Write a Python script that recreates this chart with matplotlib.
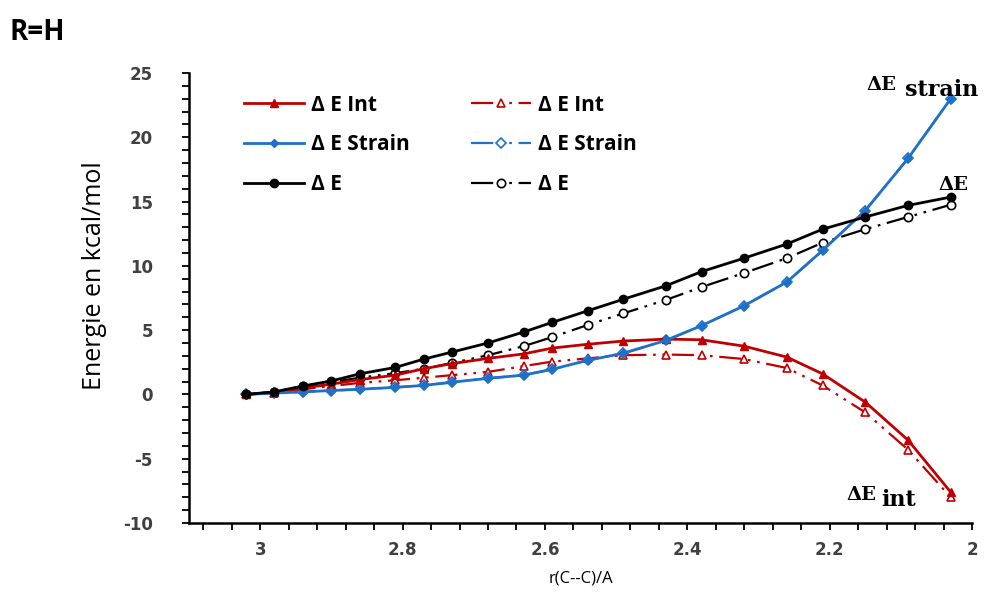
import matplotlib
matplotlib.use("Agg")
import matplotlib.pyplot as plt
from matplotlib.ticker import MultipleLocator

plt.rcParams["axes.unicode_minus"] = False

# distance r(C--C) in Angstrom
r = [3.02, 2.98, 2.94, 2.90, 2.86, 2.81, 2.77, 2.73, 2.68, 2.63, 2.59,
     2.54, 2.49, 2.43, 2.38, 2.32, 2.26, 2.21, 2.15, 2.09, 2.03]

# first set (filled markers, solid lines)
e_int = [0.0, 0.15, 0.5, 0.8, 1.15, 1.5, 2.0, 2.4, 2.8, 3.15, 3.6,
         3.9, 4.15, 4.3, 4.25, 3.75, 2.9, 1.6, -0.6, -3.55, -7.6]
e_strain = [0.0, 0.1, 0.2, 0.3, 0.4, 0.55, 0.7, 0.95, 1.25, 1.5, 1.95,
            2.65, 3.2, 4.2, 5.35, 6.9, 8.75, 11.2, 14.3, 18.35, 23.0]
e_tot = [0.0, 0.2, 0.65, 1.05, 1.6, 2.1, 2.75, 3.3, 4.0, 4.85, 5.6,
         6.5, 7.4, 8.45, 9.55, 10.6, 11.7, 12.85, 13.8, 14.7, 15.35]

# second set (open markers, dash-dot-dot lines)
e_int2 = [0.0, 0.1, 0.4, 0.65, 0.9, 1.1, 1.3, 1.5, 1.75, 2.2, 2.55,
          2.8, 3.05, 3.1, 3.05, 2.75, 2.05, 0.7, -1.4, -4.3, -8.0]
e_strain2 = e_strain
e_tot2 = [0.0, 0.2, 0.65, 0.95, 1.3, 1.65, 2.0, 2.45, 3.05, 3.75, 4.45,
          5.4, 6.3, 7.35, 8.35, 9.45, 10.6, 11.8, 12.85, 13.8, 14.75]

red = "#C00000"
blue = "#1F70C8"
dashdot2 = (0, (10, 3, 1.2, 3, 1.2, 3))

fig = plt.figure(figsize=(9.98, 5.92), dpi=100)
ax = fig.add_axes([0.1894, 0.1166, 0.7846, 0.7601])

# open-marker series first
ax.plot(r, e_int2, color=red, ls=dashdot2, lw=1.6, marker="^", ms=6,
        mfc="white", mec=red, mew=1.2, label="Δ E Int", zorder=2)
ax.plot(r, e_strain2, color=blue, ls=dashdot2, lw=1.6, marker="D", ms=5,
        mfc="white", mec=blue, mew=1.2, label="Δ E Strain", zorder=2)
ax.plot(r, e_tot2, color="black", ls=dashdot2, lw=1.6, marker="o", ms=6,
        mfc="white", mec="black", mew=1.2, label="Δ E", zorder=2)

# filled-marker series
ax.plot(r, e_int, color=red, lw=2, marker="^", ms=6, label="Δ E Int", zorder=3)
ax.plot(r, e_strain, color=blue, lw=2, marker="D", ms=4, label="Δ E Strain", zorder=3)
ax.plot(r, e_tot, color="black", lw=2, marker="o", ms=6, label="Δ E", zorder=3)

h, lab = ax.get_legend_handles_labels()
order = [3, 4, 5, 0, 1, 2]
ax.legend([h[i] for i in order], [lab[i] for i in order], ncol=2, frameon=False,
          loc="upper left", bbox_to_anchor=(0.057, 0.975), borderpad=0,
          handlelength=2.9, handletextpad=0.3, columnspacing=2.95,
          labelspacing=0.9,
          prop={"family": "Open Sans", "weight": "bold", "size": 15})

ax.set_xlim(3.1, 2.0)
ax.set_ylim(-10, 25)
ax.xaxis.set_major_locator(MultipleLocator(0.2))
ax.xaxis.set_minor_locator(MultipleLocator(0.04))
ax.yaxis.set_major_locator(MultipleLocator(5))
ax.yaxis.set_minor_locator(MultipleLocator(1))
ax.tick_params(which="both", direction="out", length=5, width=1.3, color="black")
ax.tick_params(axis="x", pad=8)
ax.tick_params(axis="y", pad=21)
ax.set_xticks([3, 2.8, 2.6, 2.4, 2.2, 2])
ax.set_xticklabels(["3", "2.8", "2.6", "2.4", "2.2", "2"])
for t in ax.get_xticklabels() + ax.get_yticklabels():
    t.set_fontfamily("DejaVu Sans")
    t.set_fontweight("bold")
    t.set_fontsize(12)
    t.set_color("#404040")

for s in ["top", "right"]:
    ax.spines[s].set_visible(False)
for s in ["left", "bottom"]:
    ax.spines[s].set_linewidth(1.8)

ax.set_ylabel("Energie en kcal/mol", family="Open Sans", fontsize=18)
ax.yaxis.set_label_coords(-0.105, 0.55)
ax.set_xlabel("r(C--C)/A", family="Open Sans", fontsize=12, labelpad=8)

ax.annotate("ΔE", xy=(2.03, 23.0), xytext=(-61, 6), textcoords="offset points",
            family="DejaVu Serif", weight="bold", fontsize=14)
ax.annotate("strain", xy=(2.03, 23.0), xytext=(-33, 2), textcoords="offset points",
            family="DejaVu Serif", weight="bold", fontsize=16)
ax.annotate("ΔE", xy=(2.03, 15.35), xytext=(-9, 5), textcoords="offset points",
            family="DejaVu Serif", weight="bold", fontsize=14)
ax.annotate("ΔE", xy=(2.03, -8.0), xytext=(-75, -2), textcoords="offset points",
            family="DejaVu Serif", weight="bold", fontsize=14)
ax.annotate("int", xy=(2.03, -8.0), xytext=(-50, -6), textcoords="offset points",
            family="DejaVu Serif", weight="bold", fontsize=16)

fig.text(0.01, 0.932, "R=H", family="Open Sans", weight="bold", fontsize=20)

fig.savefig("out.png", dpi=100)
